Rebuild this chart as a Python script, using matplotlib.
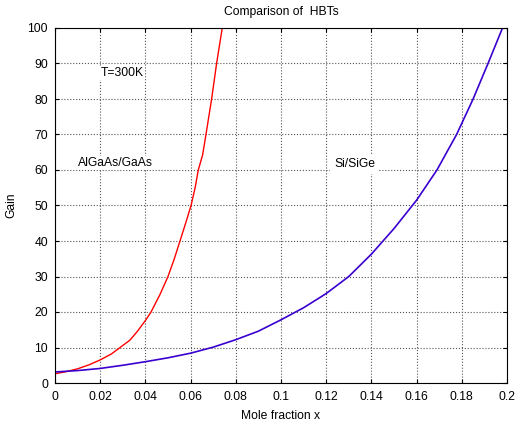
import matplotlib
matplotlib.use("Agg")
import matplotlib.pyplot as plt

red_x = [0, 0.005, 0.01, 0.015, 0.02, 0.025, 0.0288, 0.0332, 0.0365, 0.04, 0.0425, 0.0465, 0.050, 0.0528, 0.0553, 0.0578, 0.0602, 0.062, 0.0634, 0.0653, 0.0668, 0.0693, 0.0715, 0.074]
red_y = [2.6, 3.2, 4.0, 5.1, 6.5, 8.2, 10, 12.1, 14.6, 17.6, 20, 25, 30, 35, 40, 45, 50, 55, 60, 64.2, 70, 80, 90, 100]

blue_x = [0, 0.01, 0.02, 0.03, 0.04, 0.05, 0.06, 0.07, 0.08, 0.09, 0.10, 0.11, 0.12, 0.13, 0.14, 0.15, 0.16, 0.169, 0.1777, 0.185, 0.1916, 0.198]
blue_y = [3.1, 3.5, 4.1, 5.0, 6.0, 7.1, 8.4, 10.1, 12.2, 14.6, 17.8, 21.2, 25.2, 30.0, 36.3, 43.5, 51.5, 60, 70, 80, 90, 100]

xticks = [0, 0.02, 0.04, 0.06, 0.08, 0.1, 0.12, 0.14, 0.16, 0.18, 0.2]
xticklabels = ["0", "0.02", "0.04", "0.06", "0.08", "0.1", "0.12", "0.14", "0.16", "0.18", "0.2"]
yticks = [0, 10, 20, 30, 40, 50, 60, 70, 80, 90, 100]

plt.rcParams['font.family'] = ['Liberation Sans', 'DejaVu Sans']
fs = 8.7

fig = plt.figure(figsize=(5.19, 4.23), dpi=100)
ax = fig.add_axes([55/519, 1-383/423, (507-55)/519, (383-28)/423])
ax.plot(red_x, red_y, color='#ff0000', lw=1.0)
ax.plot(blue_x, blue_y, color='#3a00d0', lw=1.2)
ax.set_xlim(0, 0.2)
ax.set_ylim(0, 100)
ax.set_xticks(xticks)
ax.set_xticklabels(xticklabels, fontsize=fs)
ax.set_yticks(yticks)
ax.set_yticklabels([str(v) for v in yticks], fontsize=fs)
ax.tick_params(direction='in', top=True, right=True, length=3, width=0.8, colors='black')
ax.tick_params(axis='x', pad=6)
ax.tick_params(axis='y', pad=5)
ax.grid(True, color='#555555', linestyle=':', linewidth=0.8)
for s in ax.spines.values():
    s.set_linewidth(0.8)
ax.set_title("Comparison of  HBTs", fontsize=fs, pad=9)
ax.set_xlabel("Mole fraction x", fontsize=fs, labelpad=5)
ax.set_ylabel("Gain", fontsize=fs, labelpad=7)
bb = dict(facecolor='white', edgecolor='none', pad=1)
ax.text(0.0202, 87.3, "T=300K", fontsize=fs, va='center', ha='left', bbox=bb)
ax.text(0.0103, 62.0, "AlGaAs/GaAs", fontsize=fs, va='center', ha='left', bbox=bb)
ax.text(0.1235, 61.6, "Si/SiGe", fontsize=fs, va='center', ha='left', bbox=dict(facecolor='white', edgecolor='none', pad=3))
fig.savefig("out.png", dpi=100)
